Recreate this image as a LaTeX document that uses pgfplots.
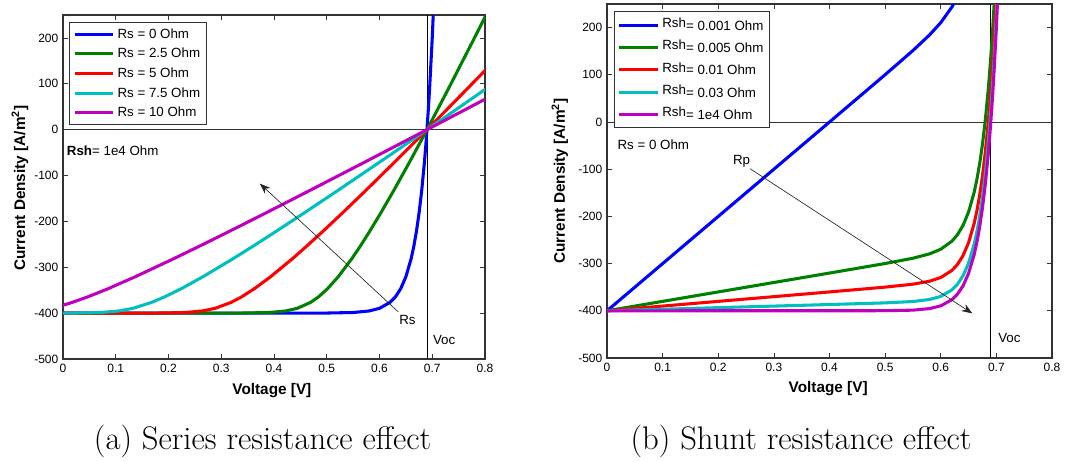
\documentclass[border=0pt]{standalone}
\usepackage{fontspec}
\setsansfont{Liberation Sans}
\usepackage{pgfplots}
\pgfplotsset{compat=1.18}
\usetikzlibrary{arrows.meta}
\definecolor{mgreen}{rgb}{0,0.5,0}
\definecolor{mcyan}{rgb}{0,0.75,0.75}
\definecolor{mmag}{rgb}{0.75,0,0.75}
\pgfplotsset{
  mystyle/.style={
    scale only axis,
    font=\sffamily,
    xmin=0, xmax=0.8, ymin=-500, ymax=250,
    xtick={0,0.1,...,0.8},
    ytick={-500,-400,...,200},
    tick align=inside,
    major tick length=4pt,
    every tick/.style={black!80, line width=0.5pt},
    axis line style={black!80, line width=0.9pt},
    /pgf/number format/assume math mode=true,
    /pgf/number format/fixed,
    tick label style={font=\sffamily\fontsize{9}{10}\selectfont},
    label style={font=\sffamily\bfseries\fontsize{11.5}{13}\selectfont},
    xlabel={Voltage [V]},
    ylabel={Current Density [A/m\textsuperscript{2}]},
    legend cell align=left,
    legend style={font=\sffamily\fontsize{10}{11}\selectfont, draw=black!80, line width=0.7pt,
      inner xsep=2.5pt, inner ysep=1.5pt, row sep=0pt,
      nodes={inner ysep=3pt}},
    legend image code/.code={\draw[#1] (0pt,0pt) -- (29pt,0pt);},
    every axis plot/.append style={line width=2.3pt, line join=round},
  }
}
\begin{document}
\begin{tikzpicture}
\path[use as bounding box] (0pt,0pt) rectangle (800.25pt,-345.75pt);
% ---------------- (a) ----------------
\begin{axis}[mystyle,
  at={(47.25pt,-269.25pt)}, anchor=south west,
  width=316.5pt, height=258pt,
  xlabel style={at={(axis description cs:0.495,-0.092)}, anchor=center},
  ylabel style={at={(axis description cs:-0.102,0.497)}, anchor=center},
  legend style={at={(axis description cs:0.015,0.98)}, anchor=north west},
]
\draw[black!80, line width=0.6pt] (axis cs:0,0) -- (axis cs:0.8,0);
\draw[black, line width=0.6pt] (axis cs:0.69,-500) -- (axis cs:0.69,250);
\addplot[blue] coordinates {(0,-400) (0.5,-399.8) (0.55,-398.6) (0.58,-395.3) (0.6,-389.5) (0.62,-376.5) (0.63,-364.8) (0.64,-347.2) (0.65,-320.8) (0.66,-281.3) (0.665,-254.6) (0.67,-222) (0.675,-182) (0.68,-133.1) (0.685,-73.3) (0.6875,-38.5) (0.69,0) (0.6925,42.6) (0.695,89.7) (0.70,199.6) (0.705,334)};
\addplot[mgreen] coordinates {(0,-400) (0.340,-399.8) (0.3906,-398.6) (0.4219,-395.3) (0.4442,-389.5) (0.4694,-376.5) (0.4841,-364.8) (0.5011,-347.2) (0.5217,-320.8) (0.5475,-281.3) (0.5632,-254.6) (0.5812,-222.0) (0.6022,-182) (0.6268,-133.1) (0.6557,-73.3) (0.6721,-38.5) (0.69,0) (0.7095,42.6) (0.7309,89.7) (0.7798,199.6) (0.8021,250.2)};
\addplot[red] coordinates {(0,-400) (0.1802,-399.8) (0.2311,-398.6) (0.2638,-395.3) (0.2884,-389.5) (0.3188,-376.5) (0.3382,-364.8) (0.3622,-347.2) (0.3934,-320.8) (0.4350,-281.3) (0.4613,-254.6) (0.4924,-222) (0.5294,-182) (0.5735,-133.1) (0.6264,-73.3) (0.6567,-38.5) (0.69,0) (0.7266,42.6) (0.7668,89.7) (0.8018,131)};
\addplot[mcyan] coordinates {(0,-400) (0.0202,-399.8) (0.0717,-398.6) (0.1056,-395.3) (0.1326,-389.5) (0.1682,-376.5) (0.1922,-364.8) (0.2234,-347.2) (0.2650,-320.8) (0.3224,-281.3) (0.3595,-254.6) (0.4036,-222) (0.4566,-182) (0.5203,-133.1) (0.5970,-73.3) (0.6413,-38.5) (0.69,0) (0.7436,42.6) (0.8026,89.7)};
\addplot[mmag] coordinates {(-0.0049,-384.3) (0.0057,-380.8) (0.0176,-376.5) (0.0463,-364.8) (0.0845,-347.2) (0.1367,-320.8) (0.2099,-281.3) (0.2576,-254.6) (0.3148,-222) (0.3838,-182) (0.4670,-133.1) (0.5677,-73.3) (0.6259,-38.5) (0.69,0) (0.7607,42.6) (0.8385,89.7)};
\legend{Rs = 0 Ohm, Rs = 2.5 Ohm, Rs = 5 Ohm, Rs = 7.5 Ohm, Rs = 10 Ohm}
\draw[black!85, line width=0.5pt, -{Stealth[length=8pt,width=6pt]}] (axis cs:0.6355,-397.2) -- (axis cs:0.3734,-117.8);
\node[font=\sffamily\fontsize{10}{11}\selectfont, anchor=center] at (axis cs:0.653,-415) {Rs};
\node[font=\sffamily\fontsize{10}{11}\selectfont, anchor=west, inner sep=0pt] at (axis cs:0.701,-458) {Voc};
\node[font=\sffamily\fontsize{10}{11}\selectfont, anchor=west, inner sep=0pt] at (axis cs:0.007,-45) {\textbf{Rsh}= 1e4 Ohm};
\end{axis}
% ---------------- (b) ----------------
\begin{axis}[mystyle,
  at={(455.25pt,-268.5pt)}, anchor=south west,
  width=333.75pt, height=265.5pt,
  xlabel style={at={(axis description cs:0.497,-0.085)}, anchor=center},
  ylabel style={at={(axis description cs:-0.106,0.5)}, anchor=center},
  legend style={at={(axis description cs:0.016,0.979)}, anchor=north west},
]
\draw[black!80, line width=0.6pt] (axis cs:0,0) -- (axis cs:0.8,0);
\draw[black, line width=0.6pt] (axis cs:0.69,-500) -- (axis cs:0.69,250);
\addplot[blue] coordinates {(0,-400) (0.1,-300) (0.2,-200) (0.3,-100) (0.4,0) (0.5,100.2) (0.55,151.4) (0.58,184.7) (0.6,210.5) (0.62,243.5) (0.63,265.2)};
\addplot[mgreen] coordinates {(0,-400) (0.1,-380) (0.2,-360) (0.3,-340) (0.4,-320) (0.5,-299.8) (0.55,-288.6) (0.58,-279.3) (0.6,-269.5) (0.62,-252.5) (0.63,-238.8) (0.64,-219.2) (0.65,-190.8) (0.66,-149.3) (0.665,-121.6) (0.67,-88) (0.675,-47) (0.68,2.9) (0.685,63.7) (0.6875,99) (0.69,138) (0.6925,181.1) (0.695,228.7) (0.70,339.6)};
\addplot[red] coordinates {(0,-400) (0.1,-390) (0.2,-380) (0.3,-370) (0.4,-360) (0.5,-349.8) (0.55,-343.6) (0.58,-337.3) (0.6,-329.5) (0.62,-314.5) (0.63,-301.8) (0.64,-283.2) (0.65,-255.8) (0.66,-215.3) (0.665,-188.1) (0.67,-155) (0.675,-114.5) (0.68,-65.1) (0.685,-4.8) (0.6875,30.3) (0.69,69) (0.6925,111.9) (0.695,159.2) (0.70,269.6)};
\addplot[mcyan] coordinates {(0,-400) (0.1,-396.7) (0.2,-393.3) (0.3,-390) (0.4,-386.7) (0.5,-383.2) (0.55,-380.3) (0.58,-376) (0.6,-369.5) (0.62,-355.8) (0.63,-343.8) (0.64,-325.9) (0.65,-299.1) (0.66,-259.3) (0.665,-232.4) (0.67,-199.7) (0.675,-159.5) (0.68,-110.4) (0.685,-50.5) (0.6875,-15.6) (0.69,23) (0.6925,65.7) (0.695,112.9) (0.70,222.9) (0.705,358.5)};
\addplot[mmag] coordinates {(0,-400) (0.5,-399.8) (0.55,-398.6) (0.58,-395.3) (0.6,-389.5) (0.62,-376.5) (0.63,-364.8) (0.64,-347.2) (0.65,-320.8) (0.66,-281.3) (0.665,-254.6) (0.67,-222) (0.675,-182) (0.68,-133.1) (0.685,-73.3) (0.6875,-38.5) (0.69,0) (0.6925,42.6) (0.695,89.7) (0.70,199.6) (0.705,334)};
\legend{{\raisebox{2pt}{Rsh}= 0.001 Ohm}, {\raisebox{2pt}{Rsh}= 0.005 Ohm}, {\raisebox{2pt}{Rsh}= 0.01 Ohm}, {\raisebox{2pt}{Rsh}= 0.03 Ohm}, {\raisebox{2pt}{Rsh}= 1e4 Ohm}}
\draw[black!85, line width=0.5pt, -{Stealth[length=8pt,width=6pt]}] (axis cs:0.2571,-98.9) -- (axis cs:0.6567,-405.5);
\node[font=\sffamily\fontsize{10}{11}\selectfont, anchor=center] at (axis cs:0.242,-83) {Rp};
\node[font=\sffamily\fontsize{10}{11}\selectfont, anchor=west, inner sep=0pt] at (axis cs:0.703,-457) {Voc};
\node[font=\sffamily\fontsize{10}{11}\selectfont, anchor=west, inner sep=0pt] at (axis cs:0.0185,-48) {Rs = 0 Ohm};
\end{axis}
% captions
\node[anchor=base, font=\fontsize{24.5}{28}\selectfont] at (196.9pt,-336.75pt) {(a) Series resistance effect};
\node[anchor=base, font=\fontsize{24.5}{28}\selectfont] at (600.75pt,-336.75pt) {(b) Shunt resistance effect};
\end{tikzpicture}
\end{document}
